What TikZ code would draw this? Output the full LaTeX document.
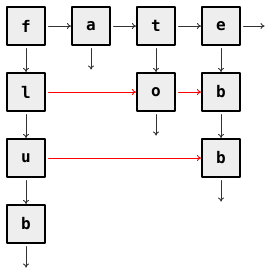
\documentclass[tikz,border=0pt]{standalone}
\usepackage{fontspec}
\setmonofont{DejaVu Sans Mono}
\usetikzlibrary{arrows.meta}
\tikzset{
  cell/.style={draw=black, fill=gray!13, minimum size=38pt, inner sep=0pt, line width=1.1pt,
    font=\ttfamily\bfseries\fontsize{16}{16}\selectfont},
  link/.style={-{To[length=4pt,width=6pt]}, line width=0.9pt, draw=black!80, shorten <=3pt, shorten >=0.5pt},
  redlink/.style={link, draw=red}
}
\begin{document}
\begin{tikzpicture}[x=1pt, y=-1pt, line join=round, line cap=round]
		\useasboundingbox (0,0) rectangle (271,275);
		
		% Các ô
		\node[cell] (f) at (26,26) {f};
		\node[cell] (a) at (91,26) {a};
		\node[cell] (t) at (156,26) {t};
		\node[cell] (e) at (221,26) {e};
		\node[cell] (l) at (26,92) {l};
		\node[cell] (o) at (156,92) {o};
		\node[cell] (b1) at (221,92) {b};
		\node[cell] (u) at (26,158) {u};
		\node[cell] (b2) at (221,158) {b};
		\node[cell] (b3) at (26,224) {b};
		
		% Đầu tự do của các mũi tên
		\coordinate (eend) at (265,26);
		\coordinate (aend) at (91,70);
		\coordinate (oend) at (156,136);
		\coordinate (b2end) at (221,202);
		\coordinate (b3end) at (26,268);
		
		% Mũi tên đen
		\draw[link] (f) -- (a);
		\draw[link] (a) -- (t);
		\draw[link] (t) -- (e);
		\draw[link] (e) -- (eend);
		\draw[link] (f) -- (l);
		\draw[link] (a) -- (aend);
		\draw[link] (t) -- (o);
		\draw[link] (e) -- (b1);
		\draw[link] (l) -- (u);
		\draw[link] (o) -- (oend);
		\draw[link] (b1) -- (b2);
		\draw[link] (u) -- (b3);
		\draw[link] (b2) -- (b2end);
		\draw[link] (b3) -- (b3end);
		
		% Mũi tên đỏ
		\draw[redlink] (l) -- (o);
		\draw[redlink] (o) -- (b1);
		\draw[redlink] (u) -- (b2);
\end{tikzpicture}
\end{document}
